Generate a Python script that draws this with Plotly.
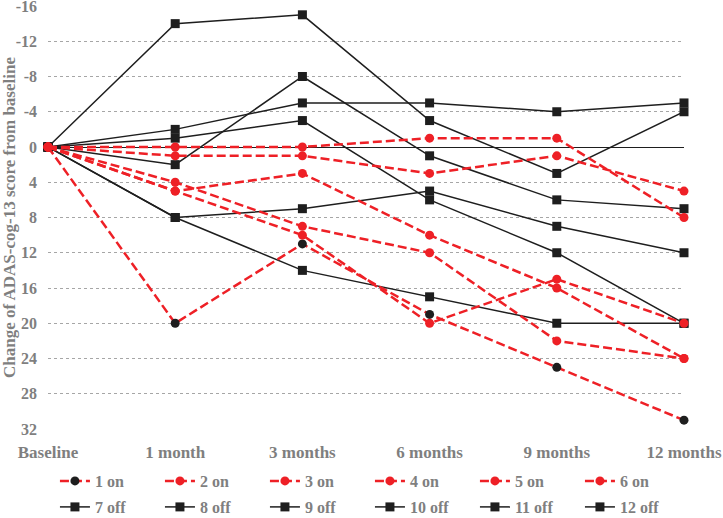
import plotly.graph_objects as go

visits = ["Baseline", "1 month", "3 months", "6 months", "9 months", "12 months"]

# change of ADAS-cog-13 score from baseline
p1_on = [0, 20, 11, 19, 25, 31]
p2_on = [0, 0, 0, -1, -1, 8]
p3_on = [0, 1, 1, 3, 1, 5]
p4_on = [0, 4, 9, 12, 22, 24]
p5_on = [0, 5, 3, 10, 16, 24]
p6_on = [0, 5, 10, 20, 15, 20]

p7_off = [0, -14, -15, -3, 3, -4]
p8_off = [0, 2, -8, 1, 6, 7]
p9_off = [0, -2, -5, -5, -4, -5]
p10_off = [0, -1, -3, 6, 12, 20]
p11_off = [0, 8, 7, 5, 9, 12]
p12_off = [0, 8, 14, 17, 20, 20]

y_ticks = [-16, -12, -8, -4, 0, 4, 8, 12, 16, 20, 24, 28, 32]

on_series = [("1 on", p1_on), ("2 on", p2_on), ("3 on", p3_on),
             ("4 on", p4_on), ("5 on", p5_on), ("6 on", p6_on)]
off_series = [("7 off", p7_off), ("8 off", p8_off), ("9 off", p9_off),
              ("10 off", p10_off), ("11 off", p11_off), ("12 off", p12_off)]

RED = "#EE2026"
BLACK = "#1E1E1E"
GRAY = "#7F7F7F"
FONT = "Liberation Serif"

fig = go.Figure()

# "off" patients: solid black lines with squares (second legend row)
for name, vals in off_series:
    fig.add_trace(go.Scatter(
        x=visits, y=vals, name=name, mode="lines+markers",
        line=dict(color=BLACK, width=1.5),
        marker=dict(symbol="square", size=9, color=BLACK),
        cliponaxis=False, legend="legend2",
    ))

# "on" patients: red dashed lines with circles; patient 1 has black markers
for name, vals in on_series:
    fig.add_trace(go.Scatter(
        x=visits, y=vals, name=name, mode="lines+markers",
        line=dict(color=RED, width=2.5, dash="9px,4px"),
        marker=dict(symbol="circle", size=9, color=BLACK if name == "1 on" else RED),
        cliponaxis=False, legend="legend",
    ))

legend_style = dict(
    orientation="h", xref="container", yref="container",
    x=0.076, xanchor="left", yanchor="middle",
    font=dict(family=FONT, size=16, color=GRAY, weight="bold"),
    entrywidth=60, entrywidthmode="pixels",
    bgcolor="rgba(0,0,0,0)", tracegroupgap=0,
)

fig.update_layout(
    width=723, height=518,
    margin=dict(l=48, r=39, t=6, b=89, autoexpand=False),
    paper_bgcolor="white", plot_bgcolor="white",
    font=dict(family=FONT, color=GRAY, weight="bold"),
    xaxis=dict(
        type="category", range=[0, 5], showgrid=False, zeroline=False,
        showline=False, ticks="", ticklabelstandoff=11,
        tickfont=dict(family=FONT, size=17, color=GRAY, weight="bold"),
    ),
    yaxis=dict(
        range=[32, -16], tickvals=y_ticks,
        ticktext=[str(v) for v in y_ticks],
        showgrid=True, gridcolor="#A6A6A6", griddash="dot", gridwidth=1,
        zeroline=True, zerolinecolor=BLACK, zerolinewidth=1.3,
        showline=False, ticks="", ticklabelstandoff=10,
        ticklabeloverflow="allow",
        tickfont=dict(family=FONT, size=16, color=GRAY, weight="bold"),
        title=dict(text="Change of ADAS-cog-13 score from baseline",
                   font=dict(family=FONT, size=17, color=GRAY, weight="bold"),
                   standoff=8),
    ),
    showlegend=True,
    legend=dict(legend_style, y=1 - 481 / 518),
    legend2=dict(legend_style, y=1 - 507 / 518),
)

# drop the default page margin so the figure sits at the window origin
fig.write_html(
    "out.html",
    config={"displayModeBar": False},
    post_script="document.body.style.margin = '0';",
)
